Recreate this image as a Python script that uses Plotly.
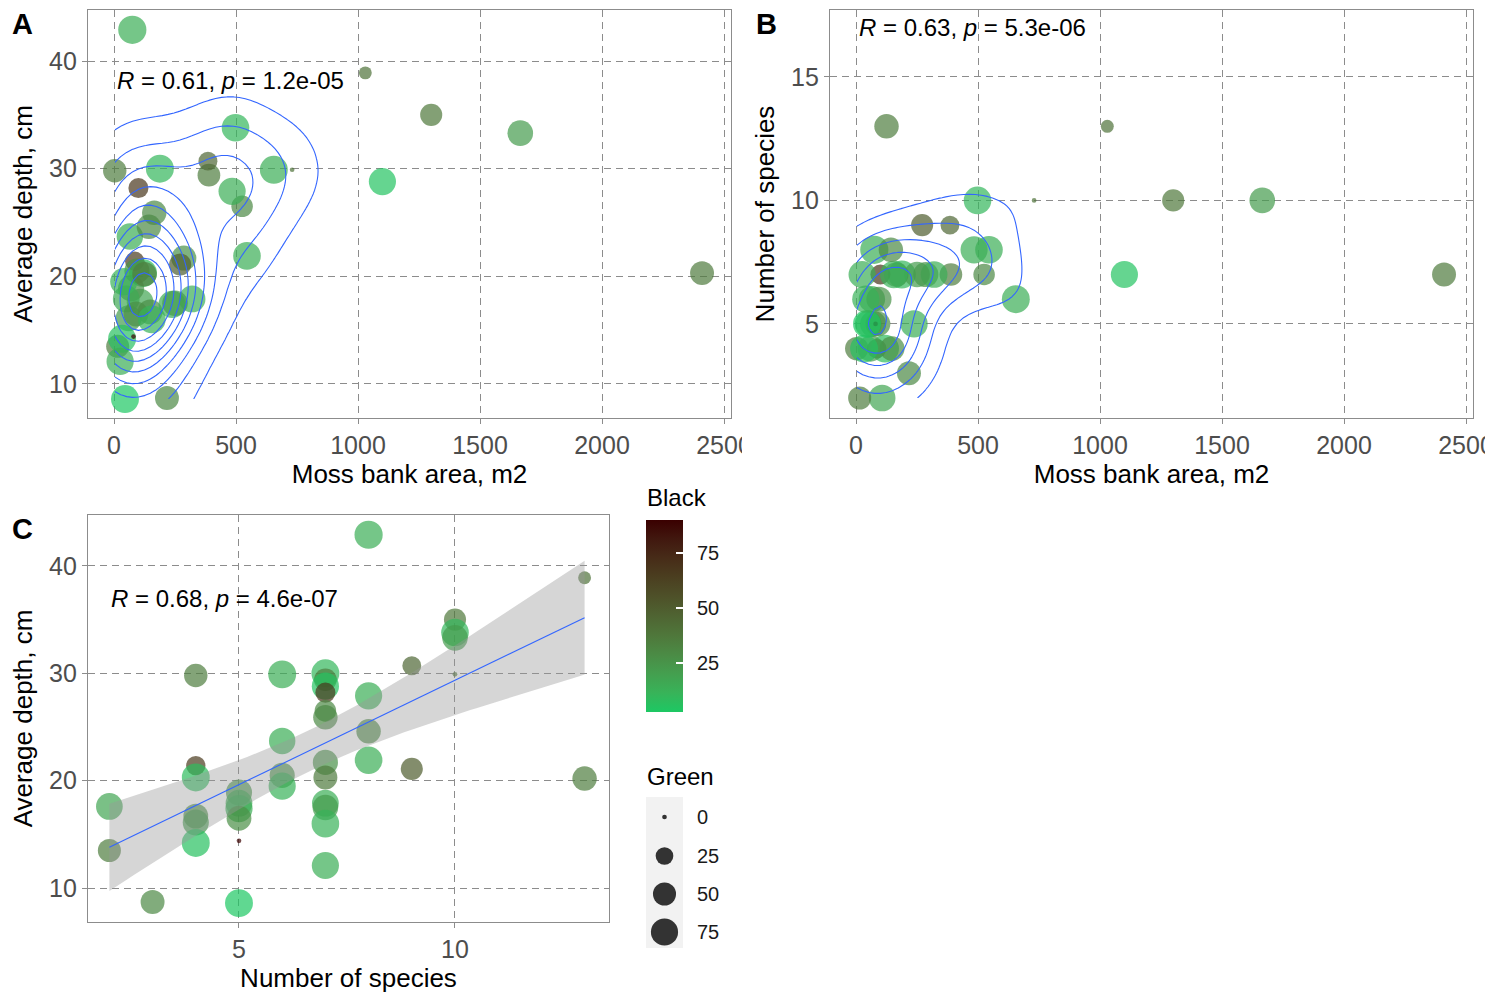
import numpy as np
import plotly.graph_objects as go

# ---------------- data (one row per site) ----------------
species = [2, 2, 3, 4, 4, 4, 4, 4, 4, 5, 5, 5, 5, 5, 5, 6, 6, 6, 6,
           7, 7, 7, 7, 7, 7, 7, 7, 7, 7, 7, 7, 8, 8, 8, 8, 9, 9,
           10, 10, 10, 10, 13, 13]
depth = [17.6, 13.5, 8.7, 29.8, 21.4, 20.3, 16.7, 16.1, 14.2, 18.9, 17.9, 17.4, 16.5, 14.4, 8.6,
         29.9, 23.7, 20.5, 19.5, 30.0, 29.4, 28.8, 28.2, 26.5, 25.9, 21.7, 20.3, 17.9, 17.5,
         16.0, 12.1, 42.9, 27.9, 24.6, 21.9, 30.7, 21.1, 35.0, 33.8, 33.3, 29.9, 38.9, 20.2]
area = [107, 15, 217, 3, 85, 119, 148, 60, 33, 70, 50, 238, 90, 80, 45,
        655, 65, 94, 40, 188, 389, 1100, 100, 525, 165, 286, 2410, 320, 250,
        155, 25, 75, 484, 143, 545, 385, 271, 1300, 498, 1665, 730, 1030, 125]
black = [18, 35, 30, 35, 66, 8, 28, 22, 6, 25, 16, 14, 28, 90, 3,
         14, 14, 26, 12, 10, 35, 5, 68, 30, 30, 26, 36, 14, 22,
         12, 14, 14, 14, 30, 14, 45, 50, 38, 10, 22, 40, 40, 35]
green = [72, 50, 55, 52, 32, 80, 60, 68, 80, 68, 72, 75, 60, 0, 80,
         80, 70, 62, 75, 80, 48, 75, 35, 42, 58, 62, 55, 72, 65,
         78, 75, 82, 75, 58, 78, 30, 45, 45, 78, 65, 0, 10, 58]

area_ticks = [0, 500, 1000, 1500, 2000, 2500]
depth_ticks = [10, 20, 30, 40]
species_ticks_y = [5, 10, 15]
species_ticks_x = [5, 10]
size_breaks = [0, 25, 50, 75]
black_breaks = [25, 50, 75]
stat_A = "<i>R</i> = 0.61, <i>p</i> = 1.2e-05"
stat_B = "<i>R</i> = 0.63, <i>p</i> = 5.3e-06"
stat_C = "<i>R</i> = 0.68, <i>p</i> = 4.6e-07"

W, H = 1504, 998
FONT = "Liberation Sans, Arial, sans-serif"


def px(p):
    return p / W


def py(p):
    return 1 - p / H


# ---------------- colour scale (Lab interpolation, like ggplot) ----------------
LOW, HIGH = "#1DC863", "#3A0000"


def hex2rgb(h):
    h = h.lstrip("#")
    return np.array([int(h[i:i + 2], 16) for i in (0, 2, 4)], float)


M = np.array([[0.4124564, 0.3575761, 0.1804375],
              [0.2126729, 0.7151522, 0.0721750],
              [0.0193339, 0.1191920, 0.9503041]])
WN = np.array([0.95047, 1.0, 1.08883])


def rgb2lab(rgb):
    c = rgb / 255
    lin = np.where(c <= 0.04045, c / 12.92, ((c + 0.055) / 1.055) ** 2.4)
    t = (M @ lin) / WN
    d = 6 / 29
    f = np.where(t > d ** 3, np.cbrt(t), t / (3 * d * d) + 4 / 29)
    return np.array([116 * f[1] - 16, 500 * (f[0] - f[1]), 200 * (f[1] - f[2])])


def lab2rgb(lab):
    L, a, b = lab
    fy = (L + 16) / 116
    fx = fy + a / 500
    fz = fy - b / 200
    d = 6 / 29
    f = np.array([fx, fy, fz])
    t = np.where(f > d, f ** 3, 3 * d * d * (f - 4 / 29))
    lin = np.linalg.solve(M, t * WN)
    lin = np.clip(lin, 0, 1)
    c = np.where(lin <= 0.0031308, 12.92 * lin, 1.055 * lin ** (1 / 2.4) - 0.055)
    c = np.clip(np.round(c * 255), 0, 255).astype(int)
    return "#%02x%02x%02x" % tuple(c)


lab_lo, lab_hi = rgb2lab(hex2rgb(LOW)), rgb2lab(hex2rgb(HIGH))
colorscale = [[float(t), lab2rgb(lab_lo + (lab_hi - lab_lo) * t)] for t in np.linspace(0, 1, 11)]

# ---------------- size scale (area palette like ggplot) ----------------
gmin, gmax = min(green), max(green)


def msize(g):
    g = np.asarray(g, float)
    return 4.7 * (1 + 5 * np.sqrt((g - gmin) / (gmax - gmin)))


# ---------------- 2D KDE (MASS::kde2d style) ----------------
def bw_nrd(v):
    v = np.asarray(v, float)
    q1, q3 = np.percentile(v, [25, 75])
    return 4 * 1.06 * min(np.std(v, ddof=1), (q3 - q1) / 1.34) * len(v) ** (-0.2)


def kde2d(x, y, n=100):
    x = np.asarray(x, float)
    y = np.asarray(y, float)
    hx, hy = bw_nrd(x) / 4, bw_nrd(y) / 4
    gx = np.linspace(x.min(), x.max(), n)
    gy = np.linspace(y.min(), y.max(), n)
    ax = (gx[:, None] - x[None, :]) / hx
    ay = (gy[:, None] - y[None, :]) / hy
    dx = np.exp(-0.5 * ax ** 2) / np.sqrt(2 * np.pi)
    dy = np.exp(-0.5 * ay ** 2) / np.sqrt(2 * np.pi)
    z = dx @ dy.T / (len(x) * hx * hy)
    return gx, gy, z.T


def pretty(lo, hi, ndiv=10):
    h, h5 = 1.5, 0.5 + 1.5 * 1.5
    cell = (hi - lo) / ndiv
    base = 10 ** np.floor(np.log10(cell))
    unit = base
    if 2 * base - cell < h * (cell - unit):
        unit = 2 * base
        if 5 * base - cell < h5 * (cell - unit):
            unit = 5 * base
            if 10 * base - cell < h * (cell - unit):
                unit = 10 * base
    ns = np.floor(lo / unit + 1e-7)
    nu = np.ceil(hi / unit - 1e-7)
    return unit, ns * unit, nu * unit


def contour_trace(x, y, xa, ya):
    gx, gy, z = kde2d(x, y)
    unit, lo, hi = pretty(z.min(), z.max())
    return go.Contour(x=gx, y=gy, z=z, xaxis=xa, yaxis=ya, showscale=False,
                      contours=dict(start=lo + unit, end=hi, size=unit, coloring="lines"),
                      colorscale=[[0, "#3366FF"], [1, "#3366FF"]],
                      line=dict(width=1.1, smoothing=0), hoverinfo="skip")


# ---------------- linear fit with 95% CI ----------------
def t975(df):
    z = 1.959963985
    g1 = (z ** 3 + z) / 4
    g2 = (5 * z ** 5 + 16 * z ** 3 + 3 * z) / 96
    g3 = (3 * z ** 7 + 19 * z ** 5 + 17 * z ** 3 - 15 * z) / 384
    return z + g1 / df + g2 / df ** 2 + g3 / df ** 3


xs_ = np.asarray(species, float)
ys_ = np.asarray(depth, float)
n = len(xs_)
slope, intercept = np.polyfit(xs_, ys_, 1)
resid = ys_ - (intercept + slope * xs_)
s = np.sqrt(np.sum(resid ** 2) / (n - 2))
xg = np.linspace(xs_.min(), xs_.max(), 80)
fit = intercept + slope * xg
se = s * np.sqrt(1 / n + (xg - xs_.mean()) ** 2 / np.sum((xs_ - xs_.mean()) ** 2))
tq = t975(n - 2)
upper, lower = fit + tq * se, fit - tq * se

# ---------------- figure ----------------
fig = go.Figure()

pt = dict(mode="markers", hoverinfo="skip", showlegend=False)
mk = dict(color=black, coloraxis="coloraxis", size=msize(green), opacity=0.7, line=dict(width=0))

fig.add_trace(go.Scatter(x=area, y=depth, xaxis="x", yaxis="y", marker=mk, **pt))
fig.add_trace(go.Scatter(x=area, y=species, xaxis="x2", yaxis="y2", marker=mk, **pt))
fig.add_trace(go.Scatter(x=species, y=depth, xaxis="x3", yaxis="y3", marker=mk, **pt))

# regression band + line in panel C
fig.add_trace(go.Scatter(x=np.concatenate([xg, xg[::-1]]), y=np.concatenate([upper, lower[::-1]]),
                         xaxis="x3", yaxis="y3", mode="lines", fill="toself",
                         fillcolor="rgba(153,153,153,0.4)", line=dict(width=0),
                         hoverinfo="skip", showlegend=False))
fig.add_trace(go.Scatter(x=xg, y=fit, xaxis="x3", yaxis="y3", mode="lines",
                         line=dict(color="#3366FF", width=1.1), hoverinfo="skip", showlegend=False))

# density contours drawn on overlay axes so they sit above the points
fig.add_trace(contour_trace(area, depth, "x5", "y5"))
fig.add_trace(contour_trace(area, species, "x6", "y6"))

# size legend keys
key_y = [20, 59, 97, 135]
fig.add_trace(go.Scatter(x=[0.5] * 4, y=key_y, xaxis="x4", yaxis="y4", mode="markers",
                         marker=dict(size=msize(size_breaks), color="#333333", opacity=1,
                                     line=dict(width=0)),
                         hoverinfo="skip", showlegend=False, cliponaxis=False))

ax_common = dict(showline=True, mirror=True, linecolor="#8c8c8c", linewidth=1.4,
                 ticks="outside", ticklen=5, tickcolor="#8c8c8c", tickwidth=1.2,
                 showgrid=True, gridcolor="#8c8c8c", gridwidth=1.2, griddash="7px,5px",
                 zeroline=False, tickfont=dict(size=25, color="#4d4d4d", family=FONT),
                 title_font=dict(size=26, color="black", family=FONT), automargin=False)

rA_x = [-106.6, 2528.7]
rA_y = [6.84, 44.74]
rB_y = [1.19, 17.71]
dA_x = [px(88), px(731)]
dB_x = [px(830), px(1473)]
dTop_y = [py(418), py(10)]
dC_x = [px(88), px(609)]
dC_y = [py(922), py(515)]

hidden = dict(visible=False, showgrid=False, zeroline=False)
cmin, cmax = min(black), max(black)

fig.update_layout(
    width=W, height=H, margin=dict(l=0, r=0, t=0, b=0),
    paper_bgcolor="white", plot_bgcolor="white",
    font=dict(family=FONT),
    xaxis=dict(domain=dA_x, anchor="y", range=rA_x, tickvals=area_ticks,
               title=dict(text="Moss bank area, m2", standoff=6), **ax_common),
    yaxis=dict(domain=dTop_y, anchor="x", range=rA_y, tickvals=depth_ticks,
               title=dict(text="Average depth, cm", standoff=8), **ax_common),
    xaxis2=dict(domain=dB_x, anchor="y2", range=rA_x, tickvals=area_ticks,
                title=dict(text="Moss bank area, m2", standoff=6), **ax_common),
    yaxis2=dict(domain=dTop_y, anchor="x2", range=rB_y, tickvals=species_ticks_y,
                title=dict(text="Number of species", standoff=8), **ax_common),
    xaxis3=dict(domain=dC_x, anchor="y3", range=[1.505, 13.565], tickvals=species_ticks_x,
                title=dict(text="Number of species", standoff=6), **ax_common),
    yaxis3=dict(domain=dC_y, anchor="x3", range=rA_y, tickvals=depth_ticks,
                title=dict(text="Average depth, cm", standoff=8), **ax_common),
    xaxis4=dict(domain=[px(646), px(683)], anchor="y4", range=[0, 1], **hidden),
    yaxis4=dict(domain=[py(948), py(797)], anchor="x4", range=[151, 0], **hidden),
    xaxis5=dict(overlaying="x", anchor="y5", range=rA_x, **hidden),
    yaxis5=dict(overlaying="y", anchor="x5", range=rA_y, **hidden),
    xaxis6=dict(overlaying="x2", anchor="y6", range=rA_x, **hidden),
    yaxis6=dict(overlaying="y2", anchor="x6", range=rB_y, **hidden),
    coloraxis=dict(colorscale=colorscale, cmin=cmin, cmax=cmax,
                   colorbar=dict(thickness=37, thicknessmode="pixels", len=192, lenmode="pixels",
                                 x=px(646), xanchor="left", y=py(616), yanchor="middle",
                                 xpad=0, ypad=0, outlinewidth=0, tickvals=black_breaks,
                                 ticks="inside", ticklen=7, tickcolor="white", tickwidth=1.5,
                                 showticklabels=False, title=dict(text=""))),
)

ann = []
shapes = []
# colour bar: left-side white ticks + labels positioned from the scale
for v in black_breaks:
    yp = 712 - (v - cmin) / (cmax - cmin) * 192
    shapes.append(dict(type="line", xref="paper", yref="paper", x0=px(646), x1=px(653),
                       y0=py(yp), y1=py(yp), line=dict(color="white", width=1.5), layer="above"))
    ann.append(dict(text=str(v), xref="paper", yref="paper", x=px(695), y=py(yp),
                    xanchor="left", yanchor="middle", showarrow=False,
                    font=dict(size=20, color="#1a1a1a", family=FONT)))
# size legend labels
for v, yk in zip(size_breaks, key_y):
    ann.append(dict(text=str(v), xref="paper", yref="paper", x=px(695), y=py(797 + yk),
                    xanchor="left", yanchor="middle", showarrow=False,
                    font=dict(size=20, color="#1a1a1a", family=FONT)))
# size legend background
shapes.append(dict(type="rect", xref="paper", yref="paper", x0=px(646), x1=px(683),
                   y0=py(948), y1=py(797), fillcolor="#f2f2f2", line=dict(width=0), layer="below"))
# clip the '2500' labels at the panel viewport edges, like the reference
shapes.append(dict(type="rect", xref="paper", yref="paper", x0=px(742), x1=px(770),
                   y0=py(462), y1=py(424), fillcolor="white", line=dict(width=0), layer="above"))
shapes.append(dict(type="rect", xref="paper", yref="paper", x0=px(1485), x1=1,
                   y0=py(462), y1=py(424), fillcolor="white", line=dict(width=0), layer="above"))
fig.update_layout(shapes=shapes)

for letter, xx, yy in [("A", 10, 24), ("B", 754, 24), ("C", 10, 529)]:
    ann.append(dict(text="<b>%s</b>" % letter, xref="paper", yref="paper", x=px(xx), y=py(yy),
                    xanchor="left", yanchor="middle", showarrow=False,
                    font=dict(size=29, color="black", family=FONT)))
ann.append(dict(text=stat_A, xref="x", yref="y", x=min(area), y=38.2, xanchor="left",
                yanchor="middle", showarrow=False, font=dict(size=24, color="black", family=FONT)))
ann.append(dict(text=stat_B, xref="x2", yref="y2", x=min(area), y=17.0, xanchor="left",
                yanchor="middle", showarrow=False, font=dict(size=24, color="black", family=FONT)))
ann.append(dict(text=stat_C, xref="x3", yref="y3", x=min(species), y=37.0, xanchor="left",
                yanchor="middle", showarrow=False, font=dict(size=24, color="black", family=FONT)))
ann.append(dict(text="Black", xref="paper", yref="paper", x=px(645), y=py(498), xanchor="left",
                yanchor="middle", showarrow=False, font=dict(size=24, color="black", family=FONT)))
ann.append(dict(text="Green", xref="paper", yref="paper", x=px(645), y=py(776), xanchor="left",
                yanchor="middle", showarrow=False, font=dict(size=24, color="black", family=FONT)))
fig.update_layout(annotations=ann)

fig.write_html("out.html")
